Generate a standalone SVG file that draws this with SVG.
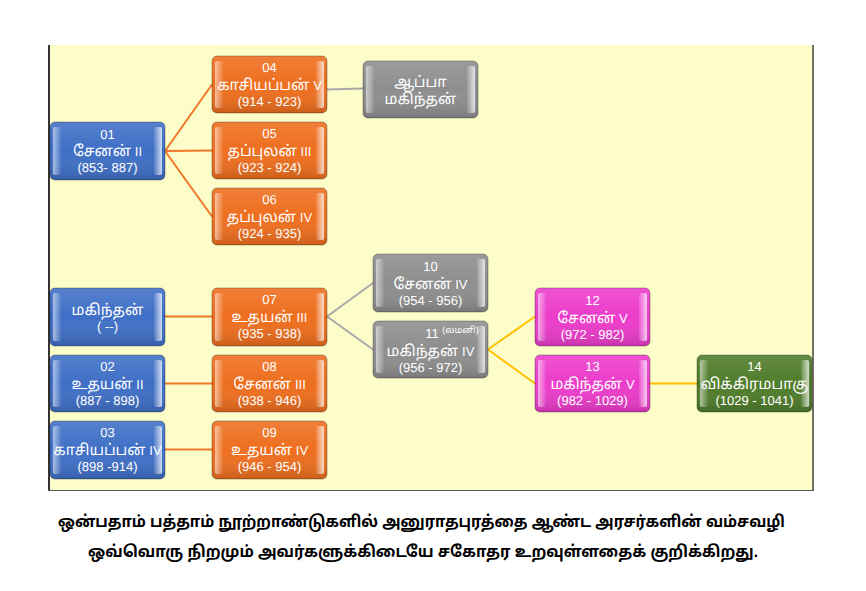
<svg xmlns="http://www.w3.org/2000/svg" width="866" height="591" viewBox="0 0 866 591">
<style>
.t{font-family:"Liberation Sans","Noto Sans","Noto Sans Tamil",sans-serif;font-size:13px;fill:#fff;text-anchor:middle;text-rendering:geometricPrecision}
.ta{font-size:15px}
.sm{font-size:9px}
.cap{font-family:"Liberation Sans","Noto Sans","Noto Sans Tamil",sans-serif;font-size:16px;font-weight:bold;fill:#000;text-anchor:middle}
.o{stroke:rgba(0,0,0,0.3);stroke-width:1}
.blue .o{fill:#3F6FC6}
.orange .o{fill:#EE6E1E}
.gray .o{fill:#8E8E8E}
.pink .o{fill:#EC3CCB}
.green .o{fill:#4F7C2A}
.hl{fill:url(#gL)}
.hr{fill:url(#gR)}
.sh{fill:url(#gV)}
.conn path{fill:none;stroke-width:2}
</style>
<defs>
<linearGradient id="gL" x1="0" y1="0" x2="1" y2="0">
<stop offset="0" stop-color="#fff" stop-opacity="0.55"/>
<stop offset="1" stop-color="#fff" stop-opacity="0.05"/>
</linearGradient>
<linearGradient id="gR" x1="0" y1="0" x2="1" y2="0">
<stop offset="0" stop-color="#fff" stop-opacity="0.1"/>
<stop offset="1" stop-color="#fff" stop-opacity="0.75"/>
</linearGradient>
<linearGradient id="gV" x1="0" y1="0" x2="0" y2="1">
<stop offset="0" stop-color="#fff" stop-opacity="0.12"/>
<stop offset="0.5" stop-color="#fff" stop-opacity="0"/>
<stop offset="1" stop-color="#000" stop-opacity="0.15"/>
</linearGradient>
</defs>
<rect width="866" height="591" fill="#fff"/>
<rect x="48" y="45" width="766" height="446" fill="#FCFDC9"/>
<line x1="49" y1="45" x2="49" y2="491" stroke="#333" stroke-width="2"/>
<line x1="813" y1="45" x2="813" y2="491" stroke="#444" stroke-width="1.5"/>
<line x1="48" y1="490.5" x2="814" y2="490.5" stroke="#555" stroke-width="1"/>

<g class="conn">
<path stroke="#F07828" d="M165,151 L212,84.5 M165,151 L212,150.5 M165,151 L212,216.5 M165,316.5 L212,316.5 M165,383.5 L212,383.5 M165,449.5 L212,449.5"/>
<path stroke="#A8A8A8" d="M327,89.5 L363,88.5 M327,316.5 L373,283 M327,316.5 L373,349.5"/>
<path stroke="#FFC000" d="M488,349.5 L535,316.5 M488,349.5 L535,383.5 M650,383.5 L697,383.5"/>
</g>

<g id="n01" class="blue">
<rect class="o" x="50" y="122" width="115" height="58" rx="5"/>
<rect class="sh" x="50" y="122" width="115" height="58" rx="5"/>
<rect class="hl" x="53" y="127" width="8" height="48" rx="2"/>
<rect class="hr" x="154" y="127" width="8" height="48" rx="2"/>
<text class="t" x="107.5" y="139">01</text>
<text class="t" x="107.5" y="156"><tspan class="ta">சேனன்</tspan> II</text>
<text class="t" x="107.5" y="172">(853- 887)</text>
</g>
<g id="n04" class="orange">
<rect class="o" x="212" y="56" width="115" height="57" rx="5"/>
<rect class="sh" x="212" y="56" width="115" height="57" rx="5"/>
<rect class="hl" x="215" y="61" width="8" height="47" rx="2"/>
<rect class="hr" x="316" y="61" width="8" height="47" rx="2"/>
<text class="t" x="269.5" y="72">04</text>
<text class="t" x="269.5" y="90"><tspan class="ta">காசியப்பன்</tspan> V</text>
<text class="t" x="269.5" y="106">(914 - 923)</text>
</g>
<g id="n05" class="orange">
<rect class="o" x="212" y="122" width="115" height="57" rx="5"/>
<rect class="sh" x="212" y="122" width="115" height="57" rx="5"/>
<rect class="hl" x="215" y="127" width="8" height="47" rx="2"/>
<rect class="hr" x="316" y="127" width="8" height="47" rx="2"/>
<text class="t" x="269.5" y="138">05</text>
<text class="t" x="269.5" y="156"><tspan class="ta">தப்புலன்</tspan> III</text>
<text class="t" x="269.5" y="172">(923 - 924)</text>
</g>
<g id="n06" class="orange">
<rect class="o" x="212" y="188" width="115" height="57" rx="5"/>
<rect class="sh" x="212" y="188" width="115" height="57" rx="5"/>
<rect class="hl" x="215" y="193" width="8" height="47" rx="2"/>
<rect class="hr" x="316" y="193" width="8" height="47" rx="2"/>
<text class="t" x="269.5" y="204">06</text>
<text class="t" x="269.5" y="222"><tspan class="ta">தப்புலன்</tspan> IV</text>
<text class="t" x="269.5" y="238">(924 - 935)</text>
</g>
<g id="nappa" class="gray">
<rect class="o" x="363" y="61" width="115" height="57" rx="5"/>
<rect class="sh" x="363" y="61" width="115" height="57" rx="5"/>
<rect class="hl" x="366" y="66" width="8" height="47" rx="2"/>
<rect class="hr" x="467" y="66" width="8" height="47" rx="2"/>
<text class="t ta" x="420.5" y="87">ஆப்பா</text>
<text class="t ta" x="420.5" y="104">மகிந்தன்</text>
</g>
<g id="nmah" class="blue">
<rect class="o" x="50" y="288" width="115" height="58" rx="5"/>
<rect class="sh" x="50" y="288" width="115" height="58" rx="5"/>
<rect class="hl" x="53" y="293" width="8" height="48" rx="2"/>
<rect class="hr" x="154" y="293" width="8" height="48" rx="2"/>
<text class="t ta" x="107.5" y="315">மகிந்தன்</text>
<text class="t" x="107.5" y="331">( --)</text>
</g>
<g id="n02" class="blue">
<rect class="o" x="50" y="355" width="115" height="57" rx="5"/>
<rect class="sh" x="50" y="355" width="115" height="57" rx="5"/>
<rect class="hl" x="53" y="360" width="8" height="47" rx="2"/>
<rect class="hr" x="154" y="360" width="8" height="47" rx="2"/>
<text class="t" x="107.5" y="371">02</text>
<text class="t" x="107.5" y="389"><tspan class="ta">உதயன்</tspan> II</text>
<text class="t" x="107.5" y="405">(887 - 898)</text>
</g>
<g id="n03" class="blue">
<rect class="o" x="50" y="421" width="115" height="58" rx="5"/>
<rect class="sh" x="50" y="421" width="115" height="58" rx="5"/>
<rect class="hl" x="53" y="426" width="8" height="48" rx="2"/>
<rect class="hr" x="154" y="426" width="8" height="48" rx="2"/>
<text class="t" x="107.5" y="437">03</text>
<text class="t" x="107.5" y="455"><tspan class="ta">காசியப்பன்</tspan> IV</text>
<text class="t" x="107.5" y="471">(898 -914)</text>
</g>
<g id="n07" class="orange">
<rect class="o" x="212" y="288" width="115" height="58" rx="5"/>
<rect class="sh" x="212" y="288" width="115" height="58" rx="5"/>
<rect class="hl" x="215" y="293" width="8" height="48" rx="2"/>
<rect class="hr" x="316" y="293" width="8" height="48" rx="2"/>
<text class="t" x="269.5" y="304">07</text>
<text class="t" x="269.5" y="322"><tspan class="ta">உதயன்</tspan> III</text>
<text class="t" x="269.5" y="338">(935 - 938)</text>
</g>
<g id="n08" class="orange">
<rect class="o" x="212" y="355" width="115" height="57" rx="5"/>
<rect class="sh" x="212" y="355" width="115" height="57" rx="5"/>
<rect class="hl" x="215" y="360" width="8" height="47" rx="2"/>
<rect class="hr" x="316" y="360" width="8" height="47" rx="2"/>
<text class="t" x="269.5" y="371">08</text>
<text class="t" x="269.5" y="389"><tspan class="ta">சேனன்</tspan> III</text>
<text class="t" x="269.5" y="405">(938 - 946)</text>
</g>
<g id="n09" class="orange">
<rect class="o" x="212" y="421" width="115" height="58" rx="5"/>
<rect class="sh" x="212" y="421" width="115" height="58" rx="5"/>
<rect class="hl" x="215" y="426" width="8" height="48" rx="2"/>
<rect class="hr" x="316" y="426" width="8" height="48" rx="2"/>
<text class="t" x="269.5" y="437">09</text>
<text class="t" x="269.5" y="455"><tspan class="ta">உதயன்</tspan> IV</text>
<text class="t" x="269.5" y="471">(946 - 954)</text>
</g>
<g id="n10" class="gray">
<rect class="o" x="373" y="254" width="115" height="58" rx="5"/>
<rect class="sh" x="373" y="254" width="115" height="58" rx="5"/>
<rect class="hl" x="376" y="259" width="8" height="48" rx="2"/>
<rect class="hr" x="477" y="259" width="8" height="48" rx="2"/>
<text class="t" x="430.5" y="271">10</text>
<text class="t" x="430.5" y="289"><tspan class="ta">சேனன்</tspan> IV</text>
<text class="t" x="430.5" y="305">(954 - 956)</text>
</g>
<g id="n11" class="gray">
<rect class="o" x="373" y="321" width="115" height="57" rx="5"/>
<rect class="sh" x="373" y="321" width="115" height="57" rx="5"/>
<rect class="hl" x="376" y="326" width="8" height="47" rx="2"/>
<rect class="hr" x="477" y="326" width="8" height="47" rx="2"/>
<text class="t" x="432" y="338">11</text>
<text class="t sm" x="460.5" y="333">(லமனி)</text>
<text class="t" x="430.5" y="356"><tspan class="ta">மகிந்தன்</tspan> IV</text>
<text class="t" x="430.5" y="372">(956 - 972)</text>
</g>
<g id="n12" class="pink">
<rect class="o" x="535" y="288" width="115" height="58" rx="5"/>
<rect class="sh" x="535" y="288" width="115" height="58" rx="5"/>
<rect class="hl" x="538" y="293" width="8" height="48" rx="2"/>
<rect class="hr" x="639" y="293" width="8" height="48" rx="2"/>
<text class="t" x="592.5" y="305">12</text>
<text class="t" x="592.5" y="323"><tspan class="ta">சேனன்</tspan> V</text>
<text class="t" x="592.5" y="339">(972 - 982)</text>
</g>
<g id="n13" class="pink">
<rect class="o" x="535" y="355" width="115" height="57" rx="5"/>
<rect class="sh" x="535" y="355" width="115" height="57" rx="5"/>
<rect class="hl" x="538" y="360" width="8" height="47" rx="2"/>
<rect class="hr" x="639" y="360" width="8" height="47" rx="2"/>
<text class="t" x="592.5" y="371">13</text>
<text class="t" x="592.5" y="389"><tspan class="ta">மகிந்தன்</tspan> V</text>
<text class="t" x="592.5" y="405">(982 - 1029)</text>
</g>
<g id="n14" class="green">
<rect class="o" x="697" y="355" width="115" height="57" rx="5"/>
<rect class="sh" x="697" y="355" width="115" height="57" rx="5"/>
<rect class="hl" x="700" y="360" width="8" height="47" rx="2"/>
<rect class="hr" x="801" y="360" width="8" height="47" rx="2"/>
<text class="t" x="754.5" y="371">14</text>
<text class="t ta" x="754.5" y="389">விக்கிரமபாகு</text>
<text class="t" x="754.5" y="405">(1029 - 1041)</text>
</g>

<g id="caption">
<text class="cap" x="421.5" y="527" textLength="727" lengthAdjust="spacingAndGlyphs">ஒன்பதாம் பத்தாம் நூற்றாண்டுகளில் அனுராதபுரத்தை ஆண்ட அரசர்களின் வம்சவழி</text>
<text class="cap" x="423" y="557" textLength="670" lengthAdjust="spacingAndGlyphs">ஒவ்வொரு நிறமும் அவர்களுக்கிடையே சகோதர உறவுள்ளதைக் குறிக்கிறது.</text>
</g>
</svg>
